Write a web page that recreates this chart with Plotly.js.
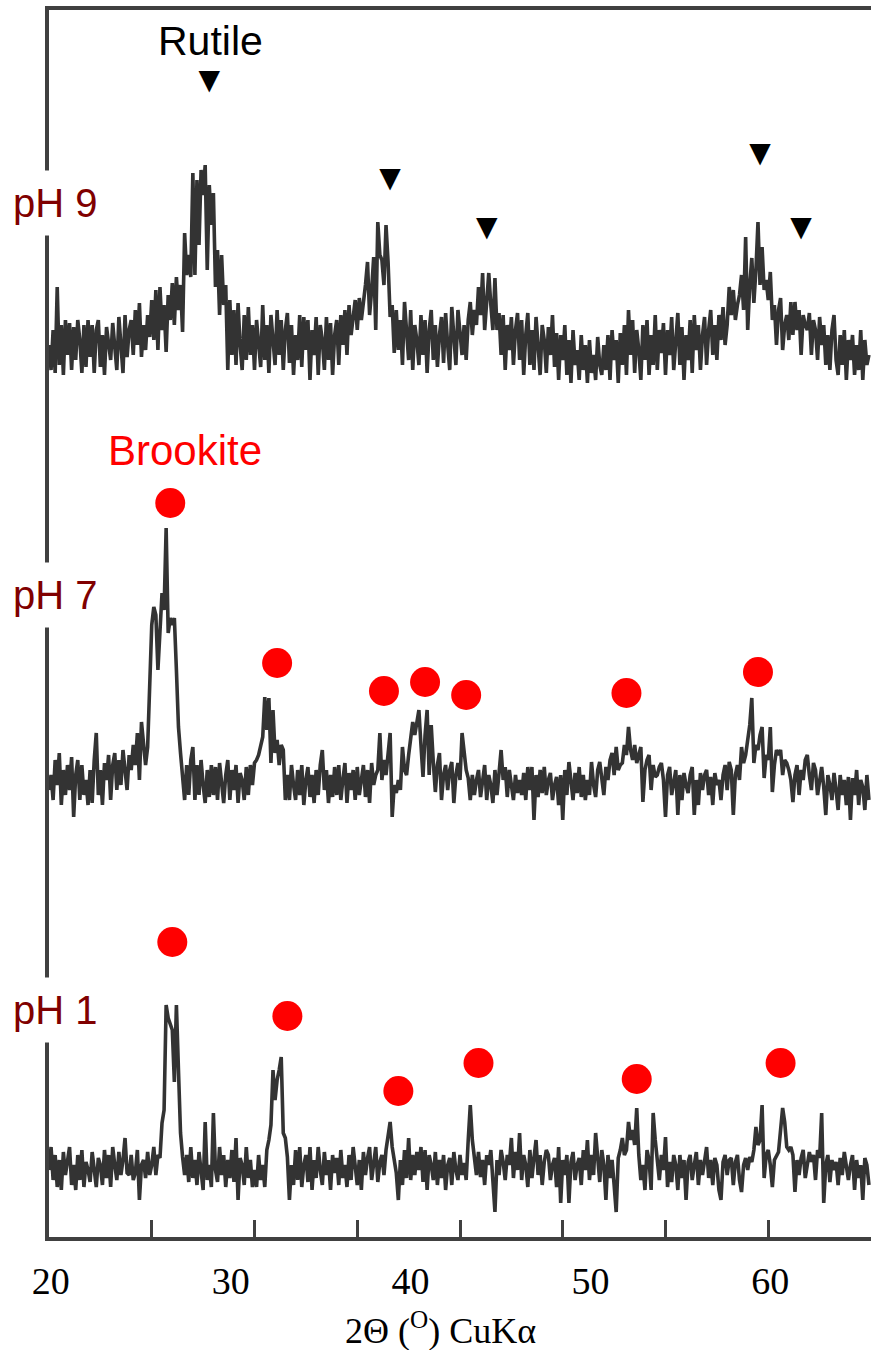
<!DOCTYPE html>
<html>
<head>
<meta charset="utf-8">
<script src="https://cdn.plot.ly/plotly-3.0.1.min.js"></script>
<style>html,body{margin:0;padding:0;background:#fff}</style>
</head>
<body>
<div id="chart" style="width:871px;height:1350px"></div>
<script>
// XRD scan grid: 2θ from 20° in 0.1° steps (CuKα)
const scanStart = 20.0;
const scanStep = 0.1;

// Intensity above each pattern's own baseline (a.u.), one row per degree of 2θ
const ph9 = [
  0, -25, 15, -28, 58, -20, 20, -30, 25, -10,
  22, -25, 18, -15, 25, 5, -28, 20, -22, 25,
  -12, 20, -28, 15, 25, -22, 10, -30, 18, 2,
  -15, 22, 0, -25, 28, -5, -28, 30, -12, 15,
  25, -10, 35, 0, 42, -12, 20, -5, 30, 8,
  45, 5, 55, -5, 58, 15, 40, -7, 50, 25,
  62, 20, 68, 35, 60, 13, 112, 70, 90, 68,
  172, 70, 165, 100, 175, 150, 180, 75, 160, 120,
  152, 58, 95, 30, 90, 40, 60, -25, 45, -10,
  35, -20, 42, 0, -25, 30, -15, 38, -10, 20,
  -25, 25, 5, -22, 40, -15, 20, -28, 30, 0,
  -20, 35, -10, 25, -25, 15, 32, -18, 20, -30,
  10, -15, 30, -22, 28, -5, 25, -35, 15, -10,
  28, -30, 20, 5, -25, 28, -15, 22, -30, 10,
  25, -20, 30, 0, 35, -10, 40, 10, 30, 45,
  15, 47, 25, 40, 60, 83, 30, 55, 88, 15,
  123, 90, 85, 60, 120, 83, 28, 40, -8, 35,
  -5, 25, -20, 43, 10, -15, 35, -25, 20, 5,
  -20, 30, -10, 25, -28, 15, 35, -15, 20, -22,
  10, 28, -18, 32, 0, -25, 38, 10, -20, 35,
  15, -10, 20, -15, 25, 43, 10, 35, 20, 58,
  30, 72, 15, 50, 72, 40, 15, 67, 15, 32,
  -10, 30, -25, 20, -5, 28, -20, 15, 32, -15,
  25, -30, 10, 32, -20, 15, -25, 28, 0, -30,
  20, 5, -28, 18, -10, 30, -22, 12, -35, 10,
  -15, 20, -30, 5, -38, 15, -20, -5, -35, 10,
  -25, 0, -38, 5, -28, -10, -35, 8, -20, -30,
  0, -25, 10, -35, 15, -15, 5, -38, 12, -20,
  20, -30, 35, -10, 25, -28, 15, -5, -35, 20,
  -15, 25, -30, 10, -20, 30, -25, 15, -8, 22,
  -30, 15, -10, 28, -25, 5, 32, -20, 18, -35,
  10, -15, 25, -28, 30, -5, 20, -25, 10, 28,
  -20, 15, 35, -10, 20, -15, 30, 5, 38, 0,
  20, 58, 30, 55, 25, 40, 50, 70, 35, 108,
  15, 60, 87, 42, 75, 123, 60, 98, 55, 65,
  45, 73, 25, 40, 0, 35, 47, -5, 20, 30,
  5, 43, 10, 43, 15, 35, -10, 30, 20, 15,
  32, -10, 25, 15, -15, 28, 0, 20, -20, 10,
  -25, 15, 30, -15, -30, 10, -20, 15, -35, 5,
  -15, 10, -30, 0, -25, 15, -35, 5, -20, -10
];

const ph7 = [
  -5, 10, -15, 25, 0, 32, -20, 15, -10, 20,
  -5, 28, -32, 10, 25, -15, 20, -10, 5, -20,
  15, -18, 25, 52, -10, 15, -20, 22, 5, 30,
  -15, 20, 32, -5, 25, 0, 35, 10, -5, 30,
  15, 40, 20, 52, 5, 63, 40, 20, 38, 115,
  160, 178, 170, 115, 150, 192, 175, 257, 152, 167,
  160, 167, 115, 58, 32, 5, -15, 20, -10, 25,
  38, -15, 20, -10, 25, 0, -18, 15, -12, 20,
  -10, 18, -15, 22, 0, -18, 10, 25, -15, 15,
  -5, 20, -18, 12, 5, -15, 18, -10, 20, 0,
  22, 25, 30, 40, 48, 88, 55, 87, 22, 75,
  32, 45, 20, 40, 35, -15, 10, -15, 20, 0,
  -15, 15, -10, 20, -20, 5, 18, -12, 10, -18,
  15, -10, 20, 35, -5, 15, -18, 10, -12, 18,
  -10, 20, -15, 5, 22, -18, 12, -5, 15, -15,
  18, -10, 5, 20, -12, 15, -18, 22, 0, 10,
  15, 52, 5, 25, 10, 35, 52, -32, 0, -8,
  5, -5, 38, 15, 10, 30, 45, 63, 50, 63,
  75, 40, 8, 50, 75, 10, 60, 23, -7, 20,
  32, -15, 10, 20, -5, 15, 23, -18, 10, 22,
  5, 52, 35, 15, 7, -15, 10, -10, 5, 15,
  -12, 8, 20, -15, 10, 0, -18, 15, -10, 12,
  35, 5, 18, -12, 15, 0, -15, 10, -8, 5,
  -10, 12, -15, 18, -5, 18, -35, 10, -12, 15,
  -8, 18, -10, 5, 12, -15, 0, 8, -20, 10,
  -35, 15, -10, 23, 0, -15, 12, -8, 18, -12,
  10, -15, 5, -10, 23, 0, -12, 15, 23, 5,
  -10, 18, 5, 25, 32, 10, 38, 15, 20, 22,
  40, 30, 58, 35, 25, 40, 22, 30, 38, -17,
  15, 25, 30, -5, 20, 8, 10, 18, 22, 5,
  -32, 10, 18, -10, 5, 15, -30, 10, -15, 12,
  0, -8, 10, 18, -30, 5, -20, 12, -5, 10,
  15, -10, 8, -20, 12, 0, 5, -15, 10, 20,
  -5, 23, 15, -30, 10, 20, 5, 38, 22, 30,
  45, 60, 87, 22, 40, 35, 50, 58, 7, 30,
  25, 58, -7, 20, 35, 30, 35, 10, 25, 22,
  15, 5, -17, 10, 20, -10, 15, 5, 25, 30,
  10, -5, 22, 15, -10, 5, 18, -2, -30, 10,
  0, -15, 12, -5, -25, 10, -10, 5, -20, 8,
  -35, 7, -10, 15, -20, 5, -2, -25, 10, -15
];

const ph1 = [
  0, 23, -10, 15, -17, 10, -20, 18, -5, 12,
  23, -15, 5, -20, 15, -10, 20, -17, 8, 0,
  -12, 18, 0, -17, 12, 5, -15, 20, -8, 15,
  -17, 23, 5, -10, 18, -5, 10, 32, -3, -5,
  15, -10, -3, 20, -30, 5, 10, -8, 18, -5,
  5, 23, -5, 15, 12, 47, 60, 165, 152, 145,
  140, 88, 165, 100, 37, 13, -5, 15, -12, 23,
  -8, 10, -15, 18, 0, -20, 48, -10, 5, -17,
  57, 0, -12, 23, -5, 15, -17, 10, -8, 20,
  -12, 32, -30, 12, 5, -15, 23, -8, 10, -17,
  0, -17, 15, -10, 5, -17, 20, 30, 45, 100,
  70, 90, 100, 113, 37, 32, 13, -30, 5, -15,
  20, -10, 23, -17, 5, 15, -12, 23, -20, 10,
  -8, 23, 0, -15, 18, -5, 10, -20, 15, -3,
  12, -15, 20, -8, 5, -17, 15, -10, 23, 0,
  -15, 10, -20, 18, -5, 12, 23, -10, 5, 23,
  -12, 8, 15, -5, 20, 37, 48, 23, 12, -3,
  -30, 10, -15, 20, -8, 32, -10, 15, -5, 18,
  0, 23, -12, 20, -20, 15, 5, -10, 18, -15,
  10, -8, 15, -20, 5, 12, -15, 18, 0, -10,
  15, -5, 7, -10, 30, 65, 30, 12, -5, 18,
  -7, 10, -15, 15, 5, 20, -12, -42, 10, -5,
  20, 8, -10, 15, 5, 32, -8, 18, 0, 37,
  -10, 15, 5, -17, 20, -8, 12, 30, -5, 15,
  -15, 8, 20, 15, -10, 5, 12, -17, 23, -33,
  10, -5, 15, -33, 8, 18, -10, 5, 12, -15,
  20, 0, 30, -10, 15, -5, 37, 10, -12, 20,
  5, -30, 15, -8, 10, -15, -42, 12, 20, 32,
  15, 20, 48, 30, 40, 25, 62, 15, -10, 5,
  -20, 20, 10, -20, 57, 30, 5, -10, 15, 0,
  33, -17, 8, -12, 15, 5, -20, 15, -8, 10,
  -30, 8, 15, -10, 5, 18, -15, 10, -5, 12,
  23, -8, 10, -15, 12, 5, -20, -30, 8, 15,
  -5, 10, 12, -15, 8, 15, -10, -22, 5, 12,
  0, 13, 8, 20, 43, 25, 30, 65, -8, 15,
  20, 5, -17, 10, 15, 18, 40, 62, 48, 23,
  20, 23, 15, -22, 10, -5, 12, 20, -8, 5,
  18, 8, 15, -10, 20, 12, 57, -33, 5, 15,
  -12, 10, 0, 8, -15, 12, -5, 18, 5, -10,
  5, 15, -20, 10, -8, 5, -30, 12, 5, -15
];

// Vertical stacking of the three patterns
const baseline = { ph9: 892, ph7: 452, ph1: 67 };

// Rutile reflections (pH 9) and the height of their markers above the baseline
const rutilePos = [27.8, 36.6, 41.3, 54.6, 56.6];
const rutileMark = [263, 165, 116, 190, 116];

// Brookite reflections and marker heights
const brookite7Pos = [25.9, 31.1, 36.3, 38.3, 40.3, 48.1, 54.5];
const brookite7Mark = [282, 122, 94, 103, 90, 92, 113];
const brookite1Pos = [26.0, 31.6, 37.0, 40.9, 48.6, 55.6];
const brookite1Mark = [228, 154, 79, 107, 91, 107];

// Labels printed under the 2θ axis
const tickLabels = [20, 30, 40, 50, 60];

const twoTheta = ph9.map((_, i) => +(scanStart + i * scanStep).toFixed(1));
const lift = (arr, b) => arr.map(v => v + b);

const lineStyle = { color: '#333333', width: 3.6 };
const traces = [
  { x: twoTheta, y: lift(ph9, baseline.ph9), mode: 'lines', line: lineStyle },
  { x: twoTheta, y: lift(ph7, baseline.ph7), mode: 'lines', line: lineStyle },
  { x: twoTheta, y: lift(ph1, baseline.ph1), mode: 'lines', line: lineStyle },
  { x: brookite7Pos, y: lift(brookite7Mark, baseline.ph7), mode: 'markers',
    marker: { color: '#ff0000', size: 30 } },
  { x: brookite1Pos, y: lift(brookite1Mark, baseline.ph1), mode: 'markers',
    marker: { color: '#ff0000', size: 30 } },
  { x: rutilePos, y: lift(rutileMark, baseline.ph9), mode: 'text',
    text: rutilePos.map(() => '▼'), textposition: 'middle center',
    textfont: { family: 'DejaVu Sans', size: 28, color: '#000000' } },
  // carries the printed axis labels
  { x: tickLabels, y: tickLabels.map(() => null), xaxis: 'x2', mode: 'lines', hoverinfo: 'skip' }
];

const phFont = { family: 'Liberation Sans, Arial, sans-serif', size: 40, color: '#800000' };
const phLabel = (text, y) => ({
  text, xref: 'paper', yref: 'paper', x: 0.0073, y, xanchor: 'center', yanchor: 'middle',
  showarrow: false, bgcolor: '#ffffff', borderpad: 10, font: phFont
});

const layout = {
  width: 871, height: 1350,
  margin: { l: 49, r: 0, t: 10, b: 113 },
  paper_bgcolor: '#ffffff', plot_bgcolor: '#ffffff',
  showlegend: false,
  xaxis: {
    range: [20, 60], tickvals: [25, 30, 35, 40, 45, 50, 55],
    ticks: 'inside', ticklen: 17, tickwidth: 3, tickcolor: '#404040',
    showticklabels: false, showgrid: false, zeroline: false,
    showline: true, linewidth: 4, linecolor: '#404040', mirror: true
  },
  xaxis2: {
    overlaying: 'x', anchor: 'y', side: 'bottom',
    range: [19.9, 65.6], tickvals: tickLabels, ticks: '',
    showline: false, showgrid: false, zeroline: false,
    ticklabelstandoff: 18,
    tickfont: { family: 'Liberation Serif, Times New Roman, serif', size: 38, color: '#000000' }
  },
  yaxis: {
    range: [0, 1227], showticklabels: false, ticks: '', showgrid: false, zeroline: false,
    showline: true, linewidth: 4, linecolor: '#404040'
  },
  annotations: [
    phLabel('pH 9', 0.8427),
    phLabel('pH 7', 0.5232),
    phLabel('pH 1', 0.185),
    { text: 'Rutile', xref: 'paper', yref: 'paper', x: 0.1959, y: 0.9745,
      xanchor: 'center', yanchor: 'middle', showarrow: false,
      font: { family: 'Liberation Sans, Arial, sans-serif', size: 41, color: '#000000' } },
    { text: 'Brookite', xref: 'paper', yref: 'paper', x: 0.1655, y: 0.6414,
      xanchor: 'center', yanchor: 'middle', showarrow: false,
      font: { family: 'Liberation Sans, Arial, sans-serif', size: 42, color: '#ff0000' } },
    { text: '2Θ (<sup>O</sup>) CuKα', xref: 'paper', yref: 'paper', x: 0.4757, y: -0.0745,
      xanchor: 'center', yanchor: 'middle', showarrow: false,
      font: { family: 'Liberation Serif, Times New Roman, serif', size: 36, color: '#000000' } }
  ]
};

Plotly.newPlot('chart', traces, layout, { displayModeBar: false, staticPlot: true });
</script>
</body>
</html>
